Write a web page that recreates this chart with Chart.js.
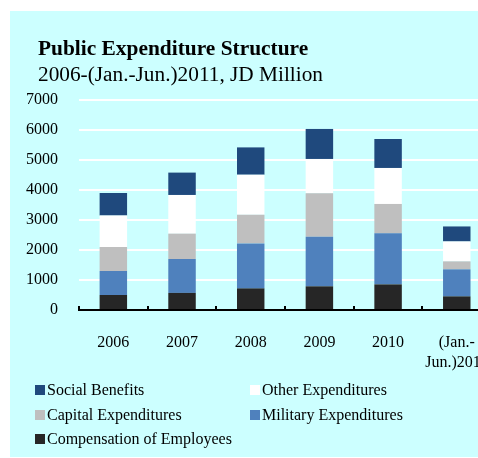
<!DOCTYPE html>
<html>
<head>
<meta charset="utf-8">
<script src="https://cdn.jsdelivr.net/npm/chart.js@4/dist/chart.umd.min.js"></script>
<style>
  html, body { margin: 0; padding: 0; background: #ffffff; overflow: hidden; width: 478px; height: 458px; position: relative; }
  #panel { position: absolute; left: 10px; top: 11px; width: 468px; height: 446px; background: #CCFFFF; overflow: hidden; }
  canvas { display: block; }
</style>
</head>
<body>
<div id="panel"><canvas id="c" width="502" height="446"></canvas></div>
<script>
// Public expenditure by type, JD million
const categories = ['2006', '2007', '2008', '2009', '2010', ['(Jan.-', 'Jun.)2011']];
const compensationOfEmployees = [500, 570, 720, 790, 855, 455];
const militaryExpenditures    = [800, 1130, 1500, 1655, 1700, 900];
const capitalExpenditures     = [800, 845, 955, 1445, 980, 265];
const otherExpenditures       = [1050, 1290, 1335, 1145, 1200, 665];
const socialBenefits          = [750, 745, 910, 1000, 965, 500];
const yTicks = [0, 1000, 2000, 3000, 4000, 5000, 6000, 7000];

const titleText = 'Public Expenditure Structure';
const subtitleText = '2006-(Jan.-Jun.)2011, JD Million';
const serif = '"Liberation Serif", "Times New Roman", serif';

// Title and subtitle, left-aligned inside the panel
const headingPlugin = {
  id: 'heading',
  afterDraw(chart) {
    const ctx = chart.ctx;
    ctx.save();
    ctx.fillStyle = '#000000';
    ctx.textAlign = 'left';
    ctx.textBaseline = 'alphabetic';
    ctx.font = 'bold 21.4px ' + serif;
    ctx.fillText(titleText, 28, 44);
    ctx.font = '21.3px ' + serif;
    ctx.fillText(subtitleText, 28, 70);
    ctx.restore();
  }
};

// Small inward tick marks on the category axis at category boundaries
const boundaryTicksPlugin = {
  id: 'boundaryTicks',
  afterDraw(chart) {
    const xs = chart.scales.x;
    const ctx = chart.ctx;
    const half = (xs.getPixelForValue(1) - xs.getPixelForValue(0)) / 2;
    const yAxis = chart.chartArea.bottom;
    ctx.save();
    ctx.strokeStyle = '#000000';
    ctx.lineWidth = 2;
    for (let i = 0; i <= categories.length; i++) {
      const x = Math.round(xs.getPixelForValue(i) - half);
      ctx.beginPath();
      ctx.moveTo(x, yAxis);
      ctx.lineTo(x, yAxis - 4);
      ctx.stroke();
    }
    ctx.restore();
  }
};

// Two-column legend below the plot
const columnLegendPlugin = {
  id: 'columnLegend',
  afterDraw(chart) {
    const ctx = chart.ctx;
    const items = chart.data.datasets.slice().reverse();
    const colX = [25, 240];
    const rowY = [379, 404, 428];
    ctx.save();
    ctx.font = '16px ' + serif;
    ctx.textAlign = 'left';
    ctx.textBaseline = 'middle';
    items.forEach((ds, i) => {
      const x = colX[i % 2];
      const y = rowY[Math.floor(i / 2)];
      ctx.fillStyle = ds.backgroundColor;
      ctx.fillRect(x, y - 5, 10, 10);
      ctx.fillStyle = '#000000';
      ctx.fillText(ds.label, x + 12, y + 1);
    });
    ctx.restore();
  }
};

new Chart(document.getElementById('c'), {
  type: 'bar',
  data: {
    labels: categories,
    datasets: [
      { label: 'Compensation of Employees', data: compensationOfEmployees, backgroundColor: '#262626' },
      { label: 'Military Expenditures', data: militaryExpenditures, backgroundColor: '#4F81BD' },
      { label: 'Capital Expenditures', data: capitalExpenditures, backgroundColor: '#BFBFBF' },
      { label: 'Other Expenditures', data: otherExpenditures, backgroundColor: '#FFFFFF' },
      { label: 'Social Benefits', data: socialBenefits, backgroundColor: '#1F497D' }
    ]
  },
  options: {
    responsive: false,
    animation: false,
    devicePixelRatio: 1,
    layout: { padding: { top: 89, right: 9, bottom: 0, left: 0 } },
    datasets: { bar: { categoryPercentage: 1.0, barPercentage: 0.4, borderWidth: 0 } },
    plugins: { legend: { display: false }, title: { display: false }, tooltip: { enabled: false } },
    scales: {
      x: {
        stacked: true,
        grid: { display: false, drawTicks: false },
        border: { display: true, color: '#000000', width: 2 },
        ticks: { color: '#000000', font: { family: serif, size: 16, lineHeight: 1.25 }, padding: 23, maxRotation: 0, autoSkip: false },
        afterFit(scale) { scale.height = 147; }
      },
      y: {
        stacked: true,
        min: 0,
        max: 7000,
        afterBuildTicks(scale) { scale.ticks = yTicks.map(v => ({ value: v })); },
        grid: { color: '#FFFFFF', lineWidth: 2, drawTicks: false },
        border: { display: false },
        ticks: { color: '#000000', font: { family: serif, size: 16 }, padding: 21, callback: v => String(v) },
        afterFit(scale) { scale.width = 69; }
      }
    }
  },
  plugins: [headingPlugin, boundaryTicksPlugin, columnLegendPlugin]
});
</script>
</body>
</html>
